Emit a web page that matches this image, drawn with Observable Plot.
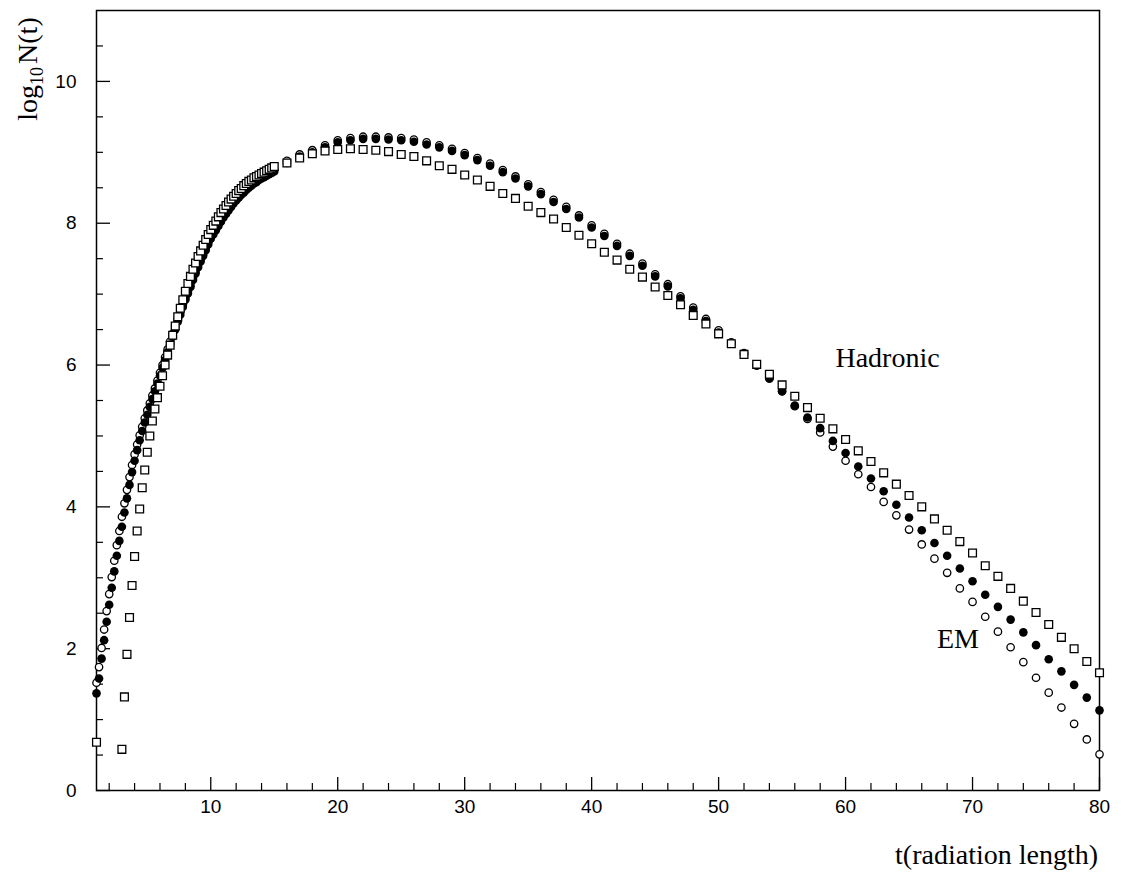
<!DOCTYPE html>
<html><head><meta charset="utf-8">
<script src="https://cdn.jsdelivr.net/npm/d3@7"></script>
<script src="https://cdn.jsdelivr.net/npm/@observablehq/plot@0.6"></script>
<style>body{margin:0;background:#fff}</style>
</head><body><div id="chart"></div>
<script>
// t (radiation length)
const t = [
 1.0,1.2,1.4,1.6,1.8,2.0,2.2,2.4,2.6,2.8,3.0,3.2,3.4,3.6,3.8,4.0,4.2,4.4,4.6,4.8,
 5.0,5.2,5.4,5.6,5.8,6.0,6.2,6.4,6.6,6.8,7.0,7.2,7.4,7.6,7.8,8.0,8.2,8.4,8.6,8.8,
 9.0,9.2,9.4,9.6,9.8,10.0,10.2,10.4,10.6,10.8,11.0,11.2,11.4,11.6,11.8,12.0,12.2,12.4,12.6,12.8,
 13.0,13.2,13.4,13.6,13.8,14.0,14.2,14.4,14.6,14.8,15.0,
 16,17,18,19,20,21,22,23,24,25,26,27,28,29,30,31,32,33,34,35,36,37,38,39,40,
 41,42,43,44,45,46,47,48,49,50,51,52,53,54,55,56,57,58,59,60,
 61,62,63,64,65,66,67,68,69,70,71,72,73,74,75,76,77,78,79,80
];
// open circles
const openCircles = [
 1.52,1.74,2.01,2.27,2.53,2.77,3.01,3.24,3.46,3.66,3.86,4.05,4.24,4.42,4.59,4.74,4.88,5.01,5.13,5.25,
 5.36,5.46,5.57,5.67,5.78,5.89,6.00,6.11,6.22,6.33,6.44,6.54,6.65,6.75,6.85,6.95,7.04,7.13,7.23,7.32,
 7.41,7.49,7.57,7.65,7.73,7.81,7.87,7.93,7.99,8.05,8.11,8.16,8.21,8.26,8.31,8.35,8.39,8.43,8.46,8.50,
 8.53,8.56,8.59,8.61,8.64,8.66,8.68,8.70,8.72,8.74,8.76,
 8.88,8.97,9.03,9.10,9.17,9.20,9.22,9.22,9.21,9.20,9.18,9.14,9.10,9.05,8.99,8.92,8.84,8.75,8.66,8.55,8.44,8.33,8.23,8.11,7.97,
 7.85,7.71,7.57,7.43,7.28,7.14,6.97,6.81,6.65,6.49,6.32,6.17,6.00,5.81,5.63,5.42,5.24,5.05,4.85,4.65,
 4.46,4.28,4.07,3.88,3.68,3.47,3.27,3.07,2.85,2.66,2.45,2.24,2.02,1.81,1.59,1.38,1.17,0.94,0.72,0.51
];
// filled circles
const filledCircles = [
 1.37,1.58,1.86,2.12,2.38,2.62,2.86,3.09,3.31,3.52,3.72,3.92,4.12,4.31,4.49,4.65,4.80,4.94,5.07,5.19,
 5.30,5.41,5.52,5.63,5.74,5.85,5.96,6.07,6.18,6.29,6.40,6.50,6.61,6.71,6.82,6.92,7.01,7.10,7.20,7.29,
 7.38,7.46,7.54,7.62,7.70,7.78,7.84,7.90,7.96,8.02,8.08,8.13,8.18,8.23,8.28,8.32,8.36,8.40,8.43,8.47,
 8.50,8.53,8.56,8.58,8.61,8.63,8.65,8.67,8.69,8.71,8.73,
 8.85,8.94,9.00,9.07,9.14,9.17,9.19,9.19,9.18,9.17,9.15,9.11,9.07,9.02,8.96,8.89,8.81,8.72,8.63,8.52,8.41,8.30,8.20,8.08,7.94,
 7.82,7.68,7.54,7.40,7.25,7.11,6.94,6.78,6.62,6.46,6.30,6.15,5.99,5.81,5.63,5.43,5.26,5.11,4.93,4.76,
 4.57,4.40,4.22,4.03,3.85,3.67,3.49,3.31,3.13,2.95,2.76,2.59,2.41,2.23,2.05,1.85,1.68,1.49,1.31,1.13
];
// open squares
const squares = [
 0.68,null,null,null,null,null,null,null,null,null,0.58,1.32,1.92,2.44,2.89,3.30,3.66,3.97,4.27,4.52,
 4.77,5.00,5.21,5.38,5.54,5.70,5.85,6.00,6.14,6.28,6.42,6.55,6.68,6.80,6.92,7.04,7.15,7.25,7.35,7.44,
 7.53,7.61,7.69,7.77,7.84,7.91,7.97,8.03,8.09,8.15,8.20,8.25,8.30,8.34,8.38,8.42,8.46,8.49,8.53,8.56,
 8.59,8.61,8.64,8.66,8.68,8.70,8.72,8.74,8.76,8.78,8.80,
 8.85,8.92,8.98,9.02,9.04,9.05,9.04,9.03,9.01,8.97,8.94,8.88,8.81,8.76,8.68,8.61,8.52,8.42,8.35,8.24,8.15,8.06,7.94,7.83,7.71,
 7.59,7.48,7.35,7.24,7.10,6.98,6.85,6.70,6.58,6.44,6.30,6.15,6.01,5.87,5.72,5.56,5.40,5.25,5.10,4.95,
 4.79,4.64,4.48,4.32,4.16,4.00,3.83,3.67,3.51,3.35,3.17,3.02,2.85,2.67,2.51,2.34,2.16,2.00,1.82,1.66
];
const xMajorTicks = [10,20,30,40,50,60,70,80];
const xMinorTicks = [2,4,6,8,12,14,16,18,22,24,26,28,32,34,36,38,42,44,46,48,52,54,56,58,62,64,66,68,72,74,76,78];
const yMajorTicks = [0,2,4,6,8,10];
const yMinorTicks = [0.5,1,1.5,2.5,3,3.5,4.5,5,5.5,6.5,7,7.5,8.5,9,9.5,10.5];
const seriesLabels = ["Hadronic","EM"];
const xTitle = "t(radiation length)";

const rows = t.map((tv,i)=>({t:tv, open:openCircles[i], filled:filledCircles[i], square:squares[i]}));

const W = 1124, H = 877, mL = 96, mR = 25, mT = 10, mB = 87;
const pw = W - mL - mR, ph = H - mT - mB;

const chart = Plot.plot({
  width: W, height: H,
  marginLeft: mL, marginRight: mR, marginTop: mT, marginBottom: mB,
  x: {domain: [1, 80], label: null},
  y: {domain: [0, 11], label: null},
  style: {background: "white", fontFamily: "Liberation Sans", color: "black"},
  marks: [
    Plot.axisX(xMajorTicks, {tickSize: 0, tickPadding: 9, fontSize: 19, label: null, tickFormat: d => String(d)}),
    Plot.axisY(yMajorTicks, {tickSize: 0, tickPadding: 20, fontSize: 19, label: null, tickFormat: d => String(d)}),
    Plot.ruleX(xMajorTicks, {insetTop: ph - 13, stroke: "black", strokeWidth: 1.3}),
    Plot.ruleX(xMinorTicks, {insetTop: ph - 7, stroke: "black", strokeWidth: 1.2}),
    Plot.ruleY(yMajorTicks, {insetRight: pw - 14, stroke: "black", strokeWidth: 1.3}),
    Plot.ruleY(yMinorTicks, {insetRight: pw - 7, stroke: "black", strokeWidth: 1.2}),
    Plot.frame({stroke: "black", strokeWidth: 1.5}),
    Plot.dot(rows, {x: "t", y: "open", r: 3.7, fill: "white", stroke: "black", strokeWidth: 1.3}),
    Plot.dot(rows, {x: "t", y: "filled", r: 4.3, fill: "black", stroke: "none"}),
    Plot.dot(rows, {x: "t", y: "square", symbol: "square", r: 4.4, fill: "white", stroke: "black", strokeWidth: 1.3}),
    Plot.text([seriesLabels[0]], {x: 59.2, y: 6.1, text: d => d, textAnchor: "start", fontFamily: "Liberation Serif", fontSize: 28, fill: "black"}),
    Plot.text([seriesLabels[1]], {x: 67.2, y: 2.13, text: d => d, textAnchor: "start", fontFamily: "Liberation Serif", fontSize: 28, fill: "black"})
  ]
});

const svg = d3.select(chart);
const yl = svg.append("text")
  .attr("transform", "translate(37,69) rotate(-90)")
  .attr("text-anchor", "middle")
  .attr("font-family", "Liberation Serif")
  .attr("font-size", 28)
  .attr("fill", "black");
yl.append("tspan").text("log");
yl.append("tspan").attr("font-size", 18).attr("dy", 6).text("10");
yl.append("tspan").attr("dy", -6).attr("dx", 3).text("N(t)");

svg.append("text")
  .attr("x", 1098).attr("y", 864)
  .attr("text-anchor", "end")
  .attr("font-family", "Liberation Serif")
  .attr("font-size", 28)
  .attr("fill", "black")
  .text(xTitle);

document.getElementById("chart").appendChild(chart);
</script>
</body></html>
